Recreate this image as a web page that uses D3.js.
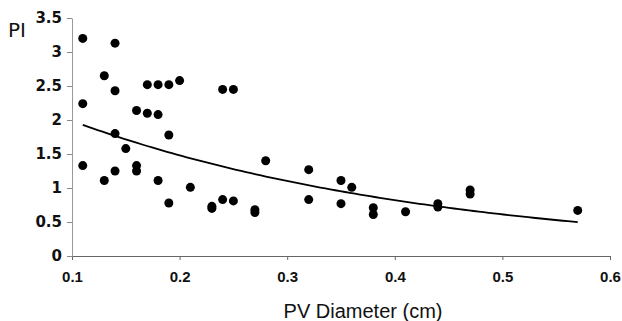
<!DOCTYPE html>
<html>
<head>
<meta charset="utf-8">
<script src="https://cdn.jsdelivr.net/npm/d3@7"></script>
<style>
  body { margin: 0; background: #fff; }
  text { font-family: "Liberation Sans", Arial, sans-serif; }
</style>
</head>
<body>
<div id="chart"></div>
<script>
// PV diameter (cm) and PI
const diameter = [0.11, 0.11, 0.11, 0.13, 0.13, 0.14, 0.14, 0.14, 0.14, 0.15,
  0.16, 0.16, 0.16, 0.17, 0.17, 0.18, 0.18, 0.18, 0.19, 0.19, 0.19, 0.20,
  0.21, 0.23, 0.23, 0.24, 0.24, 0.25, 0.25, 0.27, 0.27, 0.28, 0.32, 0.32,
  0.35, 0.35, 0.36, 0.38, 0.38, 0.41, 0.44, 0.44, 0.47, 0.47, 0.57];
const pi = [3.20, 2.24, 1.33, 2.65, 1.11, 3.13, 2.43, 1.80, 1.25, 1.58,
  2.14, 1.33, 1.25, 2.52, 2.10, 2.52, 2.08, 1.11, 2.52, 1.78, 0.78, 2.58,
  1.01, 0.70, 0.73, 2.45, 0.83, 2.45, 0.81, 0.68, 0.64, 1.40, 1.27, 0.83,
  1.11, 0.77, 1.01, 0.71, 0.61, 0.65, 0.77, 0.72, 0.97, 0.91, 0.67];
const xTicks = [0.1, 0.2, 0.3, 0.4, 0.5, 0.6];
const yTicks = [0, 0.5, 1, 1.5, 2, 2.5, 3, 3.5];

const width = 622, height = 321;
const margin = { top: 18, right: 12, bottom: 65, left: 72 };

const svg = d3.select('#chart').append('svg')
  .attr('width', width)
  .attr('height', height);

const x = d3.scaleLinear().domain([0.1, 0.6]).range([margin.left, 610]);
const y = d3.scaleLinear().domain([0, 3.5]).range([256, margin.top]);

// axes
const gx = svg.append('g')
  .attr('transform', `translate(0, ${y(0)})`)
  .call(d3.axisBottom(x).tickValues(xTicks).tickSize(4).tickSizeOuter(0)
    .tickFormat(d3.format('')));
const gy = svg.append('g')
  .attr('transform', `translate(${x(0.1)}, 0)`)
  .call(d3.axisLeft(y).tickValues(yTicks).tickSize(5).tickSizeOuter(0)
    .tickFormat(d3.format('')));

gx.select('.domain').attr('stroke', '#666');
gx.selectAll('.tick line').attr('stroke', '#666');
gx.selectAll('.tick text')
  .attr('font-size', 15).attr('font-weight', 'bold').attr('fill', '#111')
  .style('font-family', '"Liberation Sans", Arial, sans-serif')
  .attr('dy', '0.71em').attr('y', 15);
gy.select('.domain').attr('stroke', '#999');
gy.selectAll('.tick line').attr('stroke', '#888');
gy.selectAll('.tick text')
  .attr('font-size', 15).attr('font-weight', 'bold').attr('fill', '#111')
  .style('font-family', '"DejaVu Sans", sans-serif')
  .attr('x', -10);
svg.selectAll('.domain').attr('stroke-width', 1);

// exponential trendline (least squares on ln PI, like Excel)
const n = diameter.length;
const lny = pi.map(Math.log);
const mx = d3.mean(diameter), my = d3.mean(lny);
let sxy = 0, sxx = 0;
for (let i = 0; i < n; i++) {
  sxy += (diameter[i] - mx) * (lny[i] - my);
  sxx += (diameter[i] - mx) ** 2;
}
const b = sxy / sxx;
const a = Math.exp(my - b * mx);
const xs = d3.range(0, 101).map(i => d3.min(diameter) + i / 100 * (d3.max(diameter) - d3.min(diameter)));

svg.append('path')
  .datum(xs)
  .attr('fill', 'none')
  .attr('stroke', '#000')
  .attr('stroke-width', 1.8)
  .attr('d', d3.line().x(d => x(d)).y(d => y(a * Math.exp(b * d))));

// points
svg.append('g')
  .selectAll('circle')
  .data(diameter)
  .enter()
  .append('circle')
  .attr('cx', d => x(d))
  .attr('cy', (d, i) => y(pi[i]))
  .attr('r', 4.5)
  .attr('fill', '#000');

// titles
svg.append('text')
  .attr('x', 8).attr('y', 37)
  .attr('font-size', 20)
  .attr('fill', '#111')
  .style('font-family', '"DejaVu Sans", sans-serif')
  .text('PI');

svg.append('text')
  .attr('x', 363).attr('y', 318)
  .attr('text-anchor', 'middle')
  .attr('font-size', 20)
  .attr('fill', '#111')
  .text('PV Diameter (cm)');
</script>
</body>
</html>
